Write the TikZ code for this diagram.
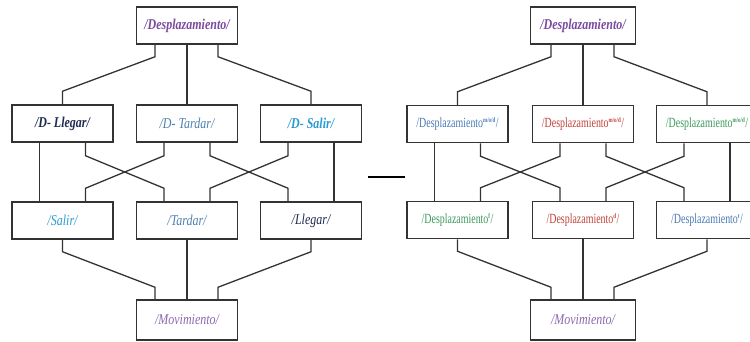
\documentclass[tikz,border=0pt]{standalone}
\usepackage{fontspec}
\setmainfont{Liberation Serif}
\newfontfamily\condserif[FakeStretch=0.8]{Liberation Serif}
\newfontfamily\narrowserif[FakeStretch=0.71]{Liberation Serif}
\begin{document}
\begin{tikzpicture}[x=1pt,y=-1pt,
  box/.style={draw=black!80,line width=1.5pt,fill=white,minimum width=101pt,minimum height=37pt,inner sep=0pt},
  link/.style={draw=black!80,line width=1.3pt},
  bi/.style={font=\condserif\fontsize{15}{17}\selectfont\bfseries\itshape},
  it/.style={font=\condserif\fontsize{15}{17}\selectfont\itshape},
  up/.style={font=\narrowserif\fontsize{14}{16}\selectfont}]
\useasboundingbox (0,0) rectangle (750,341);
\definecolor{cpurple}{HTML}{7A4A9E}
\definecolor{clilac}{HTML}{8A6AAE}
\definecolor{cnavy}{HTML}{1F2A50}
\definecolor{csteel}{HTML}{4E7FAF}
\definecolor{ccyan}{HTML}{2A9BD0}
\definecolor{cred}{HTML}{C0443A}
\definecolor{cgreen}{HTML}{3E9A5E}
\definecolor{cblue}{HTML}{4A7BB5}
\newcommand{\featsup}[1]{\textsuperscript{\fontsize{7}{7}\selectfont\bfseries #1}}

% ---------- left lattice ----------
\node[box,bi,text=cpurple] (LT) at (187,25.5) {/Desplazamiento/};
\node[box,bi,text=cnavy]  (LA1) at (62.5,123.5) {/D- Llegar/};
\node[box,it,text=csteel] (LA2) at (187,123.5) {/D- Tardar/};
\node[box,bi,text=ccyan]  (LA3) at (311,123.5) {/D- Salir/};
\node[box,it,text=ccyan]  (LB1) at (62.5,220.5) {/Salir/};
\node[box,it,text=csteel] (LB2) at (187,220.5) {/Tardar/};
\node[box,it,text=cnavy]  (LB3) at (311,220.5) {/Llegar/};
\node[box,it,text=clilac,minimum height=40pt] (LM) at (187,320) {/Movimiento/};

% ---------- right lattice ----------
\node[box,bi,text=cpurple,minimum width=105pt] (RT) at (583,25.5) {/Desplazamiento/};
\node[box,up,text=cblue]  (RA1) at (457.5,124) {/Desplazamiento\featsup{m/o/d}/};
\node[box,up,text=cred]   (RA2) at (583,124) {/Desplazamiento\featsup{m/o/d}/};
\node[box,up,text=cgreen] (RA3) at (707,124) {/Desplazamiento\featsup{m/o/d}/};
\node[box,up,text=cgreen] (RB1) at (457.5,220) {/Desplazamiento\featsup{f}/};
\node[box,up,text=cred]   (RB2) at (583,220) {/Desplazamiento\featsup{d}/};
\node[box,up,text=cblue]  (RB3) at (707,220) {/Desplazamiento\featsup{t}/};
\node[box,it,text=clilac,minimum width=105pt,minimum height=40pt] (RM) at (583,320) {/Movimiento/};

% ---------- connectors ----------
\foreach \p in {L,R}{
  % top node to first row
  \draw[link] ([xshift=-32pt]\p T.south) -- ++(0,12) -- ([yshift=13pt]\p A1.north) -- (\p A1.north);
  \draw[link] (\p T.south) -- (\p A2.north);
  \draw[link] ([xshift=31pt]\p T.south) -- ++(0,12) -- ([yshift=13pt]\p A3.north) -- (\p A3.north);
  % first row to second row
  \draw[link] ([xshift=-23pt]\p A1.south) -- ([xshift=-23pt]\p B1.north);
  \draw[link] ([xshift=23pt]\p A1.south) -- ++(0,13) -- ([xshift=-23pt,yshift=13pt]\p B2.north) -- ([xshift=-23pt]\p B2.north);
  \draw[link] ([xshift=-23pt]\p A2.south) -- ++(0,13) -- ([xshift=23pt,yshift=13pt]\p B1.north) -- ([xshift=23pt]\p B1.north);
  \draw[link] ([xshift=23pt]\p A2.south) -- ++(0,13) -- ([xshift=-23pt,yshift=13pt]\p B3.north) -- ([xshift=-23pt]\p B3.north);
  \draw[link] ([xshift=-23pt]\p A3.south) -- ++(0,13) -- ([xshift=23pt,yshift=13pt]\p B2.north) -- ([xshift=23pt]\p B2.north);
  \draw[link] ([xshift=23pt]\p A3.south) -- ([xshift=23pt]\p B3.north);
  % second row to bottom node
  \draw[link] (\p B1.south) -- ++(0,12) -- ([xshift=-32pt,yshift=12pt]\p M.north) -- ([xshift=-32pt]\p M.north);
  \draw[link] (\p B2.south) -- (\p M.north);
  \draw[link] (\p B3.south) -- ++(0,12) -- ([xshift=31pt,yshift=12pt]\p M.north) -- ([xshift=31pt]\p M.north);
}

% dash between the two lattices
\coordinate (dashL) at (368,177);
\coordinate (dashR) at (405,177);
\draw[line width=2.4pt,black] (dashL) -- (dashR);
\end{tikzpicture}
\end{document}
